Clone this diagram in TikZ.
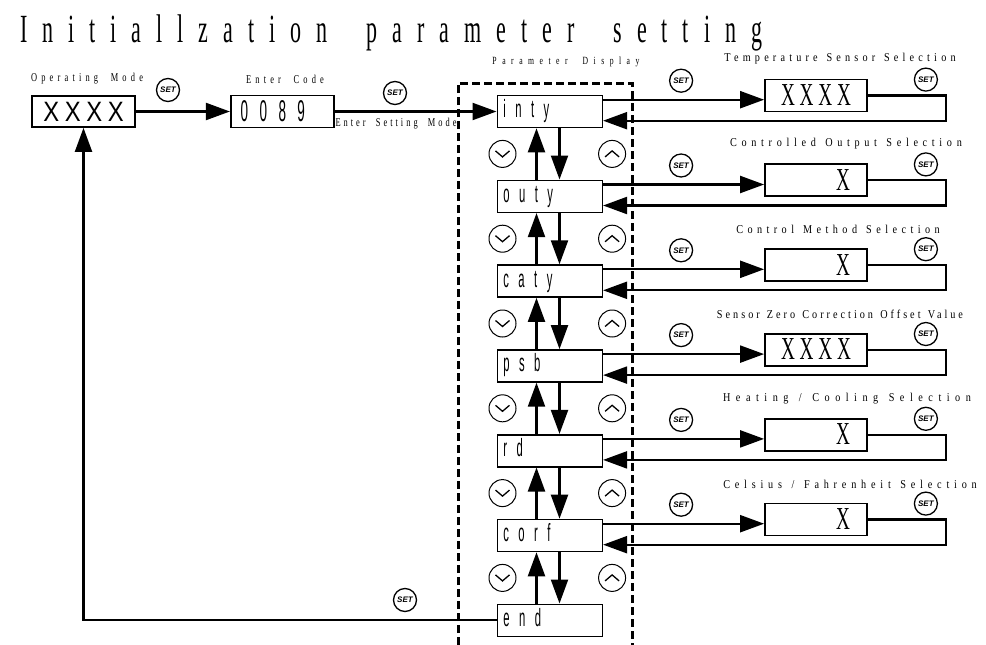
\documentclass[tikz,border=0pt]{standalone}
\usepackage{fontspec}
\usetikzlibrary{arrows.meta, positioning, calc}

\newfontfamily\titlefont[FakeStretch=0.55, LetterSpace=37.5, WordSpace=1.9]{Liberation Serif}
\newfontfamily\lblfont[FakeStretch=0.7, LetterSpace=35, WordSpace=2]{Liberation Serif}
\newfontfamily\rlblfont[FakeStretch=0.85, LetterSpace=35, WordSpace=1.3]{Liberation Serif}
\newfontfamily\dispfont[FakeStretch=0.45, LetterSpace=38]{Liberation Sans}
\newfontfamily\valfont[FakeStretch=0.6, LetterSpace=15]{Liberation Serif}
\newfontfamily\opfont[FakeStretch=0.85, LetterSpace=20]{Liberation Sans}
\newfontfamily\keyfont{Liberation Sans}

\begin{document}
\begin{tikzpicture}[x=1pt, y=-1pt,
        node distance=51.2pt and 161pt,
        disp/.style={rectangle, draw=black, line width=1.6pt, minimum width=105pt, minimum height=32pt, inner sep=0pt, text width=93pt, text height=17pt, text depth=5pt, align=left, font=\dispfont\fontsize{25}{25}\selectfont},
        valbox/.style={rectangle, draw=black, line width=1.8pt, minimum width=102pt, minimum height=32pt, inner sep=0pt, text width=68pt, text height=22pt, text depth=2pt, align=right, font=\valfont\fontsize{32}{32}\selectfont},
        lbl/.style={font=\lblfont\fontsize{12}{12}\selectfont, inner sep=0pt},
        rlbl/.style={font=\rlblfont\fontsize{12}{12}\selectfont, inner sep=0pt},
        setkey/.style={circle, draw=black, line width=1.3pt, minimum size=23pt, inner sep=0pt, font=\keyfont\bfseries\itshape\fontsize{8}{8}\selectfont},
        downkey/.style={circle, draw=black, line width=1pt, minimum size=27pt, inner sep=0pt,
            path picture={\draw[line width=1.3pt] (path picture bounding box.center) ++(-7pt,3pt) -- ++(7pt,-6pt) -- ++(7pt,6pt);}},
        upkey/.style={circle, draw=black, line width=1pt, minimum size=27pt, inner sep=0pt,
            path picture={\draw[line width=1.3pt] (path picture bounding box.center) ++(-7pt,-3pt) -- ++(7pt,6pt) -- ++(7pt,-6pt);}},
        arrow/.style={line width=2.2pt, -{Triangle[length=24pt, width=17pt]}},
        frame/.style={line width=3pt, dash pattern=on 8pt off 4pt}
    ]
        \useasboundingbox (0,0) rectangle (986,645);

        % Title
        \node[anchor=base west, inner sep=0pt, font=\titlefont\fontsize{40}{40}\selectfont] (title) at (20,42) {Initiallzation parameter setting};

        % Nodes
        \node (opmode) [rectangle, draw=black, line width=1.8pt, minimum width=103pt, minimum height=31pt, inner sep=0pt, font=\opfont\fontsize{28}{28}\selectfont] at (83.5,111.5) {XXXX};
        \node (code) [disp, right=94pt of opmode, minimum width=103pt, text width=83pt, text height=21pt, text depth=1pt, font=\dispfont\fontsize{30}{30}\selectfont] {0089};

        \node (inty) [disp, right=162pt of code] {inty};
        \node (outy) [disp, below=of inty] {outy};
        \node (caty) [disp, below=of outy] {caty};
        \node (psb) [disp, below=of caty] {psb};
        \node (rd) [disp, below=of psb] {rd};
        \node (corf) [disp, below=of rd] {corf};
        \node (pend) [disp, below=of corf] {end};

        \node (vinty) [valbox, right=of inty, yshift=16pt, text width=90pt, align=center] {XXXX};
        \node (vouty) [valbox, right=of outy, yshift=16pt] {X};
        \node (vcaty) [valbox, right=of caty, yshift=16pt] {X};
        \node (vpsb) [valbox, right=of psb, yshift=16pt, text width=90pt, align=center] {XXXX};
        \node (vrd) [valbox, right=of rd, yshift=16pt] {X};
        \node (vcorf) [valbox, right=of corf, yshift=16pt] {X};

        % Labels
        \node[lbl] (lopmode) at (87,79) {Operating Mode};
        \node[lbl] (lcode) at (285,79) {Enter Code};
        \node[lbl, font=\lblfont\fontsize{12}{12}\addfontfeatures{LetterSpace=25}] (lenter) at (396,124) {Enter Setting Mode};
        \node[lbl, font=\lblfont\fontsize{11}{11}\addfontfeatures{LetterSpace=50}] (ldisp) at (566,62) {Parameter Display};
        \node[rlbl, above=14pt of vinty, xshift=24pt] {Temperature Sensor Selection};
        \node[rlbl, above=14pt of vouty, xshift=30pt, font=\rlblfont\fontsize{12}{12}\addfontfeatures{LetterSpace=39}] {Controlled Output Selection};
        \node[rlbl, above=14pt of vcaty, xshift=22pt, font=\rlblfont\fontsize{12}{12}\addfontfeatures{LetterSpace=37}] {Control Method Selection};
        \node[rlbl, above=14pt of vpsb, xshift=24pt, font=\rlblfont\fontsize{12}{12}\addfontfeatures{LetterSpace=25}] {Sensor Zero Correction Offset Value};
        \node[rlbl, above=14pt of vrd, xshift=31pt, font=\rlblfont\fontsize{12}{12}\addfontfeatures{LetterSpace=46}] {Heating / Cooling Selection};
        \node[rlbl, above=14pt of vcorf, xshift=34pt, font=\rlblfont\fontsize{12}{12}\addfontfeatures{LetterSpace=40}] {Celsius / Fahrenheit Selection};

        % Keys
        \node[setkey] (kop) at (168,90) {SET};
        \node[setkey] (kcode) at (395,93) {SET};
        \node[setkey] (kend) at (405,600) {SET};
        \foreach \p in {inty,outy,caty,psb,rd,corf} {
            \node[setkey] (ks\p) at ([xshift=78pt, yshift=14pt]\p.north east) {SET};
            \node[setkey] (kr\p) at ([xshift=58pt, yshift=-1pt]v\p.north east) {SET};
        }
        \foreach \a/\b in {inty/outy,outy/caty,caty/psb,psb/rd,rd/corf,corf/pend} {
            \node[downkey] (kd\a) at ($(\a.south west)!0.5!(\b.north west)+(6pt,0)$) {};
            \node[upkey] (ku\a) at ($(\a.south east)!0.5!(\b.north east)+(9pt,0)$) {};
            \draw[arrow] ([xshift=40pt]\b.north west) -- ([xshift=40pt]\a.south west);
            \draw[arrow] ([xshift=63pt]\a.south west) -- ([xshift=63pt]\b.north west);
        }

        % Frame
        \draw[frame] (458,645) -- (458,83) -- (632,83) -- (632,645);

        % Arrows
        \draw[arrow] (opmode) -- (code);
        \draw[arrow] (code) -- (inty);
        \foreach \p in {inty,outy,caty,psb,rd,corf} {
            \draw[arrow] ([yshift=-5pt]\p.north east) -- ([yshift=-5pt]\p.north east -| v\p.west);
            \coordinate (r\p) at ([xshift=78pt, yshift=-26pt]\p.north east -| v\p.east);
            \draw[arrow] (v\p.east) -| (r\p) -- (r\p -| \p.east);
        }
        \draw[arrow] (pend.west) -| (opmode.south);
    \end{tikzpicture}
\end{document}
